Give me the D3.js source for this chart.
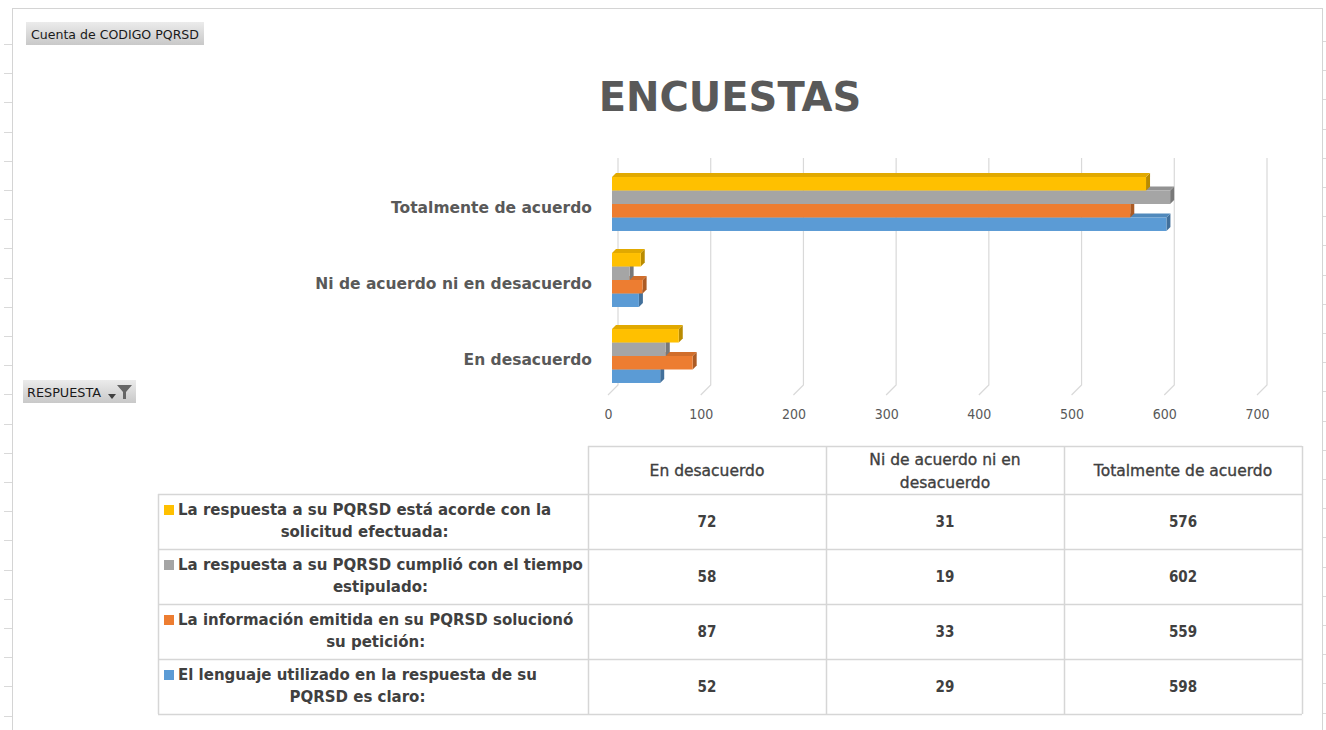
<!DOCTYPE html>
<html>
<head>
<meta charset="utf-8">
<script src="https://cdn.jsdelivr.net/npm/d3@7"></script>
<style>
  html, body { margin: 0; padding: 0; background: #ffffff; }
  svg { display: block; }
</style>
</head>
<body>
<svg id="chart" width="1326" height="730"></svg>
<script>
// ---------- data ----------
const categories = ["Totalmente de acuerdo", "Ni de acuerdo ni en desacuerdo", "En desacuerdo"];
const tableColumns = ["En desacuerdo", "Ni de acuerdo ni en desacuerdo", "Totalmente de acuerdo"];
const tableColumnLines = [["En desacuerdo"], ["Ni de acuerdo ni en", "desacuerdo"], ["Totalmente de acuerdo"]];
const seriesNames = [
  "La respuesta a su PQRSD está acorde con la solicitud efectuada:",
  "La respuesta a su PQRSD cumplió con el tiempo estipulado:",
  "La información emitida en su PQRSD solucionó su petición:",
  "El lenguaje utilizado en la respuesta de su PQRSD es claro:"
];
const seriesLabelLines = [
  ["La respuesta a su PQRSD está acorde con la", "solicitud efectuada:"],
  ["La respuesta a su PQRSD cumplió con el tiempo", "estipulado:"],
  ["La información emitida en su PQRSD solucionó", "su petición:"],
  ["El lenguaje utilizado en la respuesta de su", "PQRSD es claro:"]
];
// values in order of tableColumns: En desacuerdo, Ni de acuerdo..., Totalmente de acuerdo
const acordeValues      = [72, 31, 576];
const tiempoValues      = [58, 19, 602];
const informacionValues = [87, 33, 559];
const lenguajeValues    = [52, 29, 598];
const xTicks = [0, 100, 200, 300, 400, 500, 600, 700];
const seriesColors = ["#FFC000", "#A5A5A5", "#ED7D31", "#5B9BD5"];

const seriesValues = [acordeValues, tiempoValues, informacionValues, lenguajeValues];
const valueOf = (si, cat) => seriesValues[si][tableColumns.indexOf(cat)];

// ---------- setup ----------
const svg = d3.select("#chart");
const TXT = "#595959";
const GRID = "#d9d9d9";
const mainFont = "'DejaVu Sans', Verdana, sans-serif";
const condFont = "'DejaVu Sans Condensed', 'DejaVu Sans', sans-serif";

// frame & spreadsheet row ticks
const frame = svg.append("g");
frame.append("line").attr("x1", 12.5).attr("x2", 12.5).attr("y1", 8).attr("y2", 730).attr("stroke", "#d4d4d4");
frame.append("line").attr("x1", 12).attr("x2", 1323).attr("y1", 8.5).attr("y2", 8.5).attr("stroke", "#d4d4d4");
frame.append("line").attr("x1", 1322.5).attr("x2", 1322.5).attr("y1", 8).attr("y2", 730).attr("stroke", "#d4d4d4");
d3.range(44, 730, 29.2).forEach(y => {
  frame.append("line").attr("x1", 4).attr("x2", 12).attr("y1", Math.round(y) + 0.5).attr("y2", Math.round(y) + 0.5).attr("stroke", "#d9d9d9");
  frame.append("line").attr("x1", 1323).attr("x2", 1326).attr("y1", Math.round(y - 3) + 0.5).attr("y2", Math.round(y - 3) + 0.5).attr("stroke", "#d9d9d9");
});

// gradient for pivot buttons
const defs = svg.append("defs");
const grad = defs.append("linearGradient").attr("id", "btn").attr("x1", 0).attr("x2", 0).attr("y1", 0).attr("y2", 1);
grad.append("stop").attr("offset", "0%").attr("stop-color", "#ebebeb");
grad.append("stop").attr("offset", "100%").attr("stop-color", "#c9c9c9");

// pivot field button 1
svg.append("rect").attr("x", 26).attr("y", 22).attr("width", 178).attr("height", 23).attr("fill", "url(#btn)");
svg.append("text").attr("x", 31).attr("y", 39).attr("font-family", condFont).attr("font-size", 13)
  .attr("fill", "#1a1a1a").attr("textLength", 168).attr("lengthAdjust", "spacingAndGlyphs")
  .text("Cuenta de CODIGO PQRSD");

// pivot field button 2
svg.append("rect").attr("x", 23).attr("y", 380).attr("width", 113).attr("height", 23).attr("fill", "url(#btn)");
svg.append("text").attr("x", 27).attr("y", 397).attr("font-family", condFont).attr("font-size", 13)
  .attr("fill", "#1a1a1a").attr("textLength", 74).attr("lengthAdjust", "spacingAndGlyphs")
  .text("RESPUESTA");
svg.append("path").attr("d", "M108,394 L116,394 L112,399 Z").attr("fill", "#404040");
svg.append("path").attr("d", "M117,385 L132,385 L126,392 L126,399 L123,399 L123,392 Z").attr("fill", "#666");

// title
svg.append("text").attr("x", 730).attr("y", 111).attr("text-anchor", "middle")
  .attr("font-family", mainFont).attr("font-weight", "bold").attr("font-size", 40)
  .attr("fill", TXT).text("ENCUESTAS");

// ---------- 3D bar chart ----------
const x = d3.scaleLinear().domain([0, 700]).range([612, 1261]);
const y = d3.scaleBand().domain(categories).range([166, 394]).paddingInner(0.29).paddingOuter(0.145);
const ys = d3.scaleBand().domain(d3.range(seriesNames.length)).range([0, y.bandwidth()]);

const backDx = 6, frontDx = -4, gridTop = 158, gridBottom = 385, floorFront = 395;

// gridlines with 3D floor slant
const grid = svg.append("g");
xTicks.forEach(t => {
  grid.append("path")
    .attr("d", `M${x(t) + backDx},${gridTop} L${x(t) + backDx},${gridBottom} L${x(t) + frontDx},${floorFront}`)
    .attr("fill", "none").attr("stroke", GRID).attr("stroke-width", 1.2);
});

// axis labels (front edge)
const xAxis = d3.axisBottom(d3.scaleLinear().domain([0, 700]).range([x(0) + frontDx, x(700) + frontDx]))
  .tickValues(xTicks).tickSize(0).tickPadding(0);
const axG = svg.append("g").attr("transform", `translate(0,${409})`).call(xAxis);
axG.select(".domain").remove();
axG.selectAll("text").attr("font-family", condFont).attr("font-size", 14).attr("fill", TXT).attr("dy", "0.71em");

// category labels
const catG = svg.append("g");
categories.forEach(c => {
  catG.append("text").attr("x", 592).attr("y", y(c) + y.bandwidth() / 2 + 4)
    .attr("text-anchor", "end").attr("dominant-baseline", "central")
    .attr("font-family", mainFont).attr("font-weight", "bold").attr("font-size", 15.5)
    .attr("fill", TXT).text(c);
});

// bars
const dx = 4, dy = -4;
const barsG = svg.append("g");
categories.forEach(c => {
  for (let si = seriesNames.length - 1; si >= 0; si--) {
    const v = valueOf(si, c);
    const x0 = x(0), x1 = x(v);
    const y0 = y(c) + ys(si), y1 = y0 + ys.bandwidth();
    const col = d3.color(seriesColors[si]);
    const g = barsG.append("g");
    g.append("path").attr("d", `M${x1},${y0} L${x1 + dx},${y0 + dy} L${x1 + dx},${y1 + dy} L${x1},${y1} Z`)
      .attr("fill", col.darker(0.9).formatHex());
    g.append("path").attr("d", `M${x0},${y0} L${x0 + dx},${y0 + dy} L${x1 + dx},${y0 + dy} L${x1},${y0} Z`)
      .attr("fill", col.darker(0.35).formatHex());
    g.append("rect").attr("x", x0).attr("y", y0).attr("width", x1 - x0).attr("height", y1 - y0)
      .attr("fill", seriesColors[si]);
  }
});

// ---------- data table ----------
const tbl = svg.append("g");
const colX = d3.scaleBand().domain(tableColumns).range([588, 1302]);
const headTop = 446, headBottom = 494, rowH = 55;
const rowY = d3.scaleBand().domain(d3.range(seriesNames.length)).range([headBottom, headBottom + rowH * seriesNames.length]);
const tableBottom = headBottom + rowH * seriesNames.length;
const TBL = "#d6d6d6";

// lines
tbl.append("line").attr("x1", 588).attr("x2", 1302).attr("y1", headTop + 0.5).attr("y2", headTop + 0.5).attr("stroke", TBL).attr("stroke-width", 1.5);
d3.range(seriesNames.length + 1).forEach(i => {
  const yy = headBottom + i * rowH + 0.5;
  tbl.append("line").attr("x1", 158).attr("x2", 1302).attr("y1", yy).attr("y2", yy).attr("stroke", TBL).attr("stroke-width", 1.5);
});
tbl.append("line").attr("x1", 158.5).attr("x2", 158.5).attr("y1", headBottom).attr("y2", tableBottom).attr("stroke", TBL).attr("stroke-width", 1.5);
tableColumns.forEach(c => {
  tbl.append("line").attr("x1", colX(c) + 0.5).attr("x2", colX(c) + 0.5).attr("y1", headTop).attr("y2", tableBottom).attr("stroke", TBL).attr("stroke-width", 1.5);
});
tbl.append("line").attr("x1", 1302.5).attr("x2", 1302.5).attr("y1", headTop).attr("y2", tableBottom).attr("stroke", TBL).attr("stroke-width", 1.5);

// header text
tableColumns.forEach((c, ci) => {
  const lines = tableColumnLines[ci];
  const cx = colX(c) + colX.bandwidth() / 2;
  const cy = (headTop + headBottom) / 2 + 1;
  lines.forEach((ln, li) => {
    tbl.append("text").attr("x", cx).attr("y", cy + (li - (lines.length - 1) / 2) * 23)
      .attr("text-anchor", "middle").attr("dominant-baseline", "central")
      .attr("font-family", mainFont).attr("font-size", 15.5).attr("fill", "#404040")
      .attr("stroke", "#404040").attr("stroke-width", 0.35)
      .text(ln);
  });
});

// rows
seriesNames.forEach((name, si) => {
  const top = rowY(si);
  tbl.append("rect").attr("x", 164).attr("y", top + 11).attr("width", 10).attr("height", 10).attr("fill", seriesColors[si]);
  const l1 = tbl.append("text").attr("x", 178).attr("y", top + 16)
    .attr("dominant-baseline", "central")
    .attr("font-family", mainFont).attr("font-weight", "bold").attr("font-size", 15)
    .attr("fill", "#404040").text(seriesLabelLines[si][0]);
  const w1 = l1.node().getComputedTextLength();
  tbl.append("text").attr("x", 178 + w1 / 2).attr("y", top + 38)
    .attr("text-anchor", "middle").attr("dominant-baseline", "central")
    .attr("font-family", mainFont).attr("font-weight", "bold").attr("font-size", 15)
    .attr("fill", "#404040").text(seriesLabelLines[si][1]);
  tableColumns.forEach(c => {
    tbl.append("text").attr("x", colX(c) + colX.bandwidth() / 2).attr("y", top + rowH / 2)
      .attr("text-anchor", "middle").attr("dominant-baseline", "central")
      .attr("font-family", condFont).attr("font-weight", "bold").attr("font-size", 15)
      .attr("fill", "#404040").text(valueOf(si, c));
  });
});
</script>
</body>
</html>
